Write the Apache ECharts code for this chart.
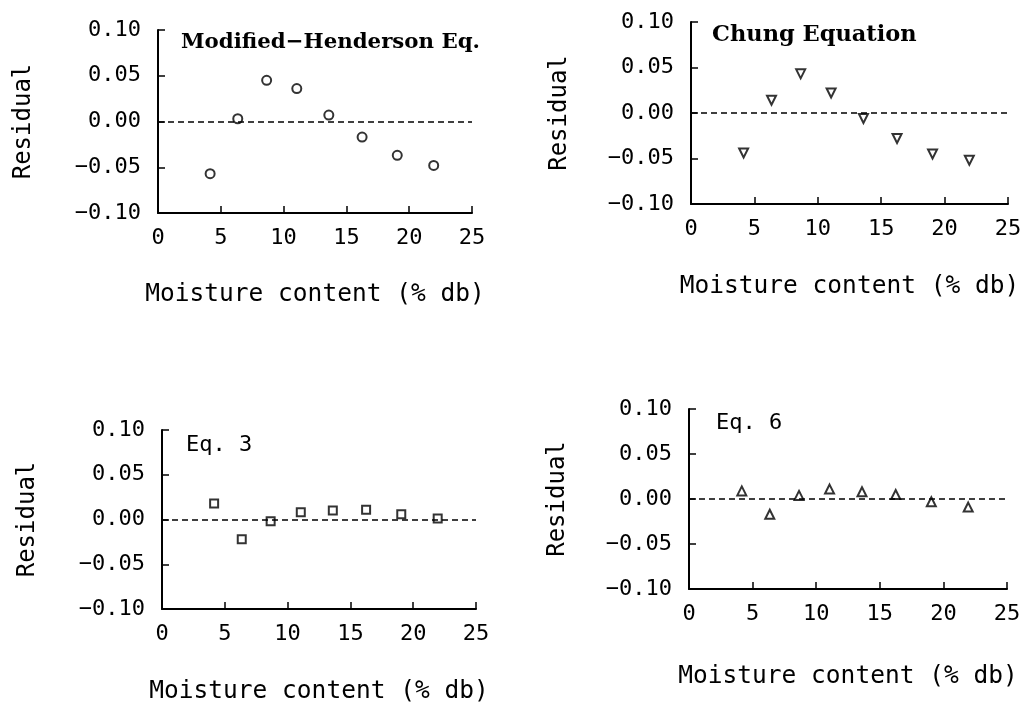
<!DOCTYPE html>
<html>
<head>
<meta charset="utf-8">
<script src="https://cdn.jsdelivr.net/npm/echarts@6/dist/echarts.min.js"></script>
<style>
  html, body { margin: 0; padding: 0; background: #fff; }
  #chart { width: 1025px; height: 702px; }
</style>
</head>
<body>
<div id="chart"></div>
<script>
// moisture content (% db), same for all four panels
const moisture = [4.15, 6.35, 8.65, 11.05, 13.6, 16.25, 19.05, 21.95]

// residuals per equation
const hendersonRes = [-0.057, 0.003, 0.045, 0.036, 0.007, -0.017, -0.037, -0.048]
const chungRes = [-0.044, 0.014, 0.043, 0.022, -0.006, -0.028, -0.045, -0.052]
const eq3Res = [0.018, -0.022, -0.002, 0.008, 0.010, 0.011, 0.006, 0.001]
const eq6Res = [0.009, -0.017, 0.004, 0.011, 0.008, 0.005, -0.003, -0.009]

const panelNames = ['Modified−Henderson Eq.', 'Chung Equation', 'Eq. 3', 'Eq. 6']
const xTitle = 'Moisture content (% db)'
const yTitle = 'Residual'

;(function () {
  residualChart()
})()

function residualChart() {
  let chart = echarts.init(document.getElementById('chart'))
  const mono = 'DejaVu Sans Mono'
  const serif = 'DejaVu Serif'

  // panel boxes: left, top, width, height, x-name gap, y-name gap
  const boxes = [
    { left: 158, top: 30, width: 314, height: 183, xGap: 69, yGap: 122 },
    { left: 691, top: 22, width: 317, height: 182, xGap: 70, yGap: 119 },
    { left: 162, top: 430, width: 314, height: 179, xGap: 70, yGap: 122 },
    { left: 689, top: 409, width: 318, height: 180, xGap: 75, yGap: 119 },
  ]
  const values = [hendersonRes, chungRes, eq3Res, eq6Res]
  const symbols = [
    { symbol: 'circle', size: 9, rotate: 0 },
    { symbol: 'triangle', size: 9, rotate: 180 },
    { symbol: 'rect', size: 8, rotate: 0 },
    { symbol: 'triangle', size: 9, rotate: 0 },
  ]

  let grid = [], xAxis = [], yAxis = [], series = []
  boxes.forEach((b, i) => {
    grid.push({
      left: b.left,
      top: b.top,
      width: b.width,
      height: b.height,
      outerBoundsMode: 'none',
    })
    xAxis.push({
      type: 'value',
      gridIndex: i,
      min: 0,
      max: 25,
      interval: 5,
      name: xTitle,
      nameLocation: 'middle',
      nameGap: b.xGap,
      nameTextStyle: { fontFamily: mono, fontSize: 24.5, color: '#000' },
      axisLine: { onZero: false, lineStyle: { color: '#000', width: 2 } },
      axisTick: { inside: true, length: 7, lineStyle: { color: '#000', width: 1.5 } },
      axisLabel: { margin: 14, fontFamily: mono, fontSize: 22, color: '#000' },
      splitLine: { show: false },
    })
    yAxis.push({
      type: 'value',
      gridIndex: i,
      min: -0.1,
      max: 0.1,
      interval: 0.05,
      name: yTitle,
      nameLocation: 'middle',
      nameGap: b.yGap,
      nameTextStyle: { fontFamily: mono, fontSize: 24, color: '#000' },
      axisLine: { show: true, onZero: false, lineStyle: { color: '#000', width: 2 } },
      axisTick: { show: true, inside: true, length: 7, lineStyle: { color: '#000', width: 1.5 } },
      axisLabel: {
        margin: 17,
        fontFamily: mono,
        fontSize: 22,
        color: '#000',
        formatter: (v) => v.toFixed(2).replace('-', '−'),
      },
      splitLine: { show: false },
    })
    series.push({
      type: 'scatter',
      xAxisIndex: i,
      yAxisIndex: i,
      symbol: symbols[i].symbol,
      symbolSize: symbols[i].size,
      symbolRotate: symbols[i].rotate,
      itemStyle: { color: '#fff', borderColor: '#000', borderWidth: 2 },
      data: moisture.map((x, k) => [x, values[i][k]]),
      markLine: {
        silent: true,
        symbol: 'none',
        label: { show: false },
        lineStyle: { color: '#000', type: [6, 4], width: 1.5 },
        data: [{ yAxis: 0 }],
      },
      z: 3,
    })
  })

  let option = {
    backgroundColor: '#fff',
    animation: false,
    title: [
      { text: panelNames[0], left: 176, top: 27, textStyle: { fontFamily: serif, fontSize: 21.3, fontWeight: 'bold', color: '#000' } },
      { text: panelNames[1], left: 707, top: 19, textStyle: { fontFamily: serif, fontSize: 22.5, fontWeight: 'bold', color: '#000' } },
      { text: panelNames[2], left: 181, top: 429, textStyle: { fontFamily: mono, fontSize: 22, fontWeight: 'normal', color: '#000' } },
      { text: panelNames[3], left: 711, top: 407, textStyle: { fontFamily: mono, fontSize: 22, fontWeight: 'normal', color: '#000' } },
    ],
    grid: grid,
    xAxis: xAxis,
    yAxis: yAxis,
    series: series,
  }
  chart.setOption(option)
}
</script>
</body>
</html>
